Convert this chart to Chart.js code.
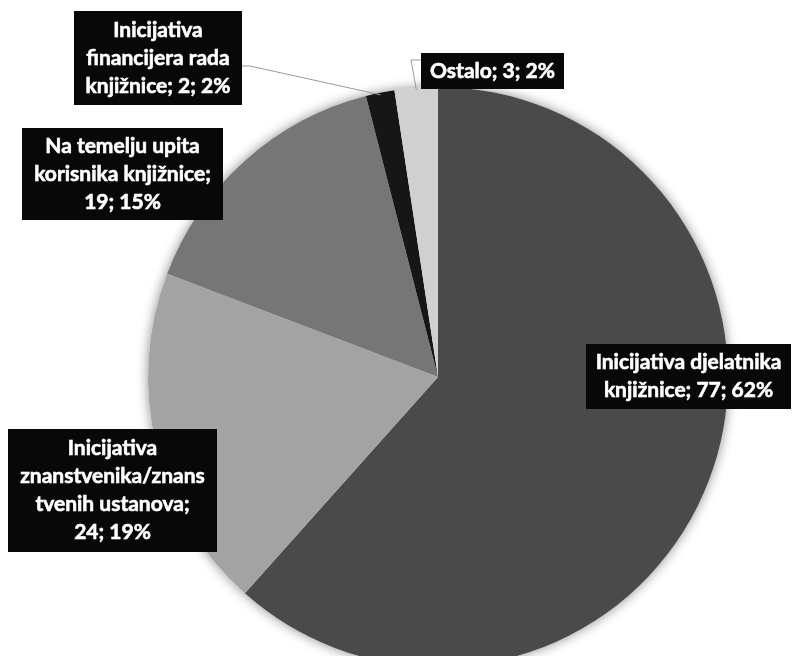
<!DOCTYPE html>
<html>
<head>
<meta charset="utf-8">
<script src="https://cdn.jsdelivr.net/npm/chart.js@4/dist/chart.umd.min.js"></script>
<style>
  html, body { margin: 0; padding: 0; background: #fff; overflow: hidden; }
  #wrap { width: 797px; height: 690px; }
</style>
</head>
<body>
<div id="wrap"><canvas id="pie" width="797" height="690"></canvas></div>
<script>
const categories = [
  "Inicijativa djelatnika knjižnice",
  "Inicijativa znanstvenika/znanstvenih ustanova",
  "Na temelju upita korisnika knjižnice",
  "Inicijativa financijera rada knjižnice",
  "Ostalo"
];
const values = [77, 24, 19, 2, 3];
const colors = ["#4a4a4a", "#a3a3a3", "#767676", "#161616", "#d0d0d0"];

// label box layout (same order as categories)
const boxes = [
  { x: 586, y: 344, w: 205, h: 65, wrap: 200 },
  { x: 8, y: 429, w: 209, h: 123, wrap: 188 },
  { x: 22, y: 128, w: 201, h: 92, wrap: 190 },
  { x: 74, y: 11, w: 168, h: 94, wrap: 160, anchor: [242, 66], elbow: [250, 66] },
  { x: 421, y: 53, w: 143, h: 36, wrap: 160, anchor: [421, 60], elbow: [411, 60] }
];

const total = values.reduce((a, b) => a + b, 0);
const FONT = "bold 21px Lato";
const LINE_H = 28;

function wrapText(ctx, text, maxW) {
  const words = text.split(" ");
  const lines = [];
  let cur = "";
  for (let w of words) {
    let test = cur ? cur + " " + w : w;
    if (ctx.measureText(test).width <= maxW) { cur = test; continue; }
    if (cur) { lines.push(cur); cur = ""; }
    // break long words by characters
    while (ctx.measureText(w).width > maxW) {
      let i = w.length;
      while (i > 1 && ctx.measureText(w.slice(0, i)).width > maxW) i--;
      lines.push(w.slice(0, i));
      w = w.slice(i);
    }
    cur = w;
  }
  if (cur) lines.push(cur);
  return lines;
}

const pieShadow = {
  id: "pieShadow",
  beforeDatasetsDraw(chart) {
    const a = chart.getDatasetMeta(0).data[0];
    const ctx = chart.ctx;
    ctx.save();
    ctx.shadowColor = "rgba(0,0,0,0.45)";
    ctx.shadowBlur = 12;
    ctx.fillStyle = "#fff";
    ctx.beginPath();
    ctx.arc(a.x, a.y, a.outerRadius, 0, Math.PI * 2);
    ctx.fill();
    ctx.restore();
  }
};

const boxLabels = {
  id: "boxLabels",
  afterDatasetsDraw(chart) {
    const ctx = chart.ctx;
    const meta = chart.getDatasetMeta(0);
    ctx.save();
    ctx.font = FONT;
    meta.data.forEach((arc, i) => {
      const b = boxes[i];
      if (b.anchor) {
        const mid = (arc.startAngle + arc.endAngle) / 2;
        const px = arc.x + Math.cos(mid) * (arc.outerRadius - 2);
        const py = arc.y + Math.sin(mid) * (arc.outerRadius - 2);
        ctx.strokeStyle = "#9a9a9a";
        ctx.lineWidth = 1;
        ctx.beginPath();
        ctx.moveTo(b.anchor[0], b.anchor[1]);
        ctx.lineTo(b.elbow[0], b.elbow[1]);
        ctx.lineTo(px, py);
        ctx.stroke();
      }
      const pct = Math.round(values[i] / total * 100);
      const text = categories[i] + "; " + values[i] + "; " + pct + "%";
      const lines = wrapText(ctx, text, b.wrap);
      ctx.fillStyle = "#080808";
      ctx.fillRect(b.x, b.y, b.w, b.h);
      ctx.fillStyle = "#ffffff";
      ctx.strokeStyle = "#ffffff";
      ctx.lineWidth = 0.6;
      ctx.textAlign = "center";
      ctx.textBaseline = "middle";
      const y0 = b.y + (b.h - lines.length * LINE_H) / 2 + LINE_H / 2;
      lines.forEach((ln, k) => {
        ctx.fillText(ln, b.x + b.w / 2, y0 + k * LINE_H);
        ctx.strokeText(ln, b.x + b.w / 2, y0 + k * LINE_H);
      });
    });
    ctx.restore();
  }
};

new Chart(document.getElementById("pie"), {
  type: "pie",
  data: {
    labels: categories,
    datasets: [{
      data: values,
      backgroundColor: colors,
      borderWidth: 0
    }]
  },
  options: {
    responsive: false,
    animation: false,
    layout: { padding: { left: 148, right: 69, top: 87, bottom: 23 } },
    plugins: {
      legend: { display: false },
      tooltip: { enabled: false }
    }
  },
  plugins: [pieShadow, boxLabels]
});
</script>
</body>
</html>
